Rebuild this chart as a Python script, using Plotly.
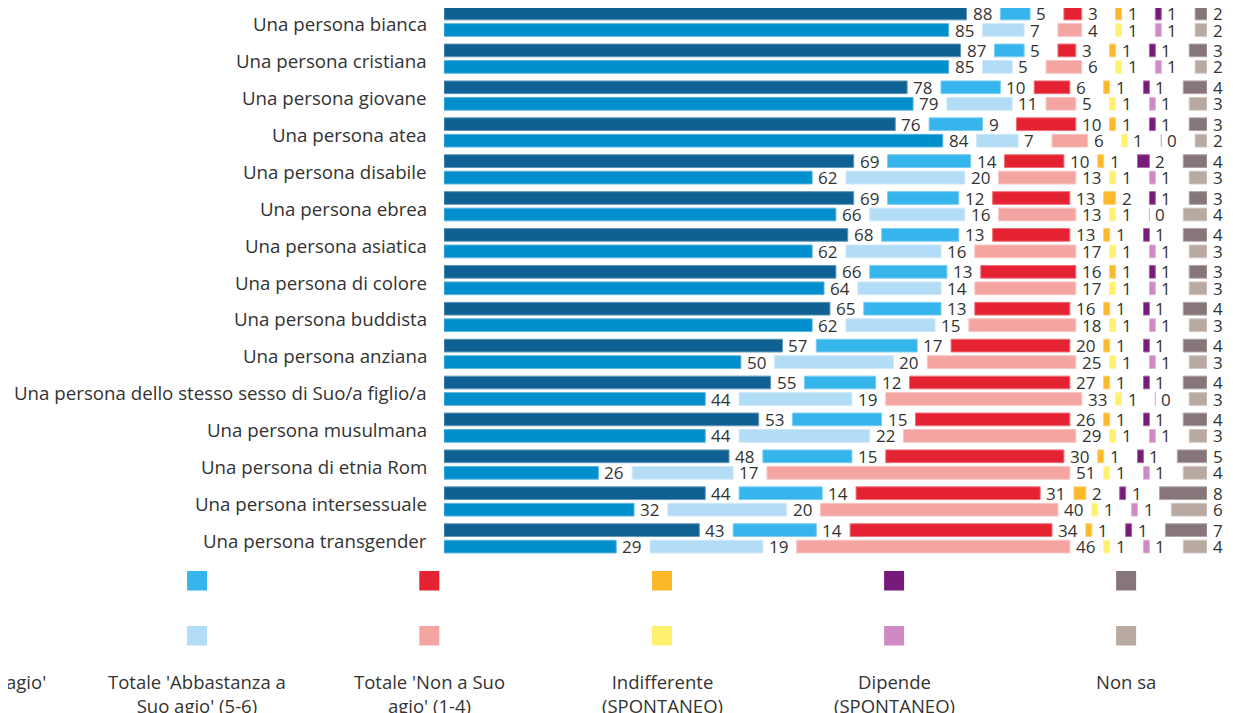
import plotly.graph_objects as go

# ---------------- data ----------------
categories = [
    "Una persona bianca",
    "Una persona cristiana",
    "Una persona giovane",
    "Una persona atea",
    "Una persona disabile",
    "Una persona ebrea",
    "Una persona asiatica",
    "Una persona di colore",
    "Una persona buddista",
    "Una persona anziana",
    "Una persona dello stesso sesso di Suo/a figlio/a",
    "Una persona musulmana",
    "Una persona di etnia Rom",
    "Una persona intersessuale",
    "Una persona transgender",
]

series_names = [
    "Totale 'A Suo agio' (7-10)",
    "Totale 'Abbastanza a Suo agio' (5-6)",
    "Totale 'Non a Suo agio' (1-4)",
    "Indifferente (SPONTANEO)",
    "Dipende (SPONTANEO)",
    "Non sa",
]
legend_labels = [
    "Totale 'A Suo agio'<br>(7-10)",
    "Totale 'Abbastanza a<br>Suo agio' (5-6)",
    "Totale 'Non a Suo<br>agio' (1-4)",
    "Indifferente<br>(SPONTANEO)",
    "Dipende<br>(SPONTANEO)",
    "Non sa",
]

# upper bar of each pair (dark)
agio_top = [88, 87, 78, 76, 69, 69, 68, 66, 65, 57, 55, 53, 48, 44, 43]
abbastanza_top = [5, 5, 10, 9, 14, 12, 13, 13, 13, 17, 12, 15, 15, 14, 14]
non_agio_top = [3, 3, 6, 10, 10, 13, 13, 16, 16, 20, 27, 26, 30, 31, 34]
indifferente_top = [1, 1, 1, 1, 1, 2, 1, 1, 1, 1, 1, 1, 1, 2, 1]
dipende_top = [1, 1, 1, 1, 2, 1, 1, 1, 1, 1, 1, 1, 1, 1, 1]
non_sa_top = [2, 3, 4, 3, 4, 3, 4, 3, 4, 4, 4, 4, 5, 8, 7]

# lower bar of each pair (light)
agio_bot = [85, 85, 79, 84, 62, 66, 62, 64, 62, 50, 44, 44, 26, 32, 29]
abbastanza_bot = [7, 5, 11, 7, 20, 16, 16, 14, 15, 20, 19, 22, 17, 20, 19]
non_agio_bot = [4, 6, 5, 6, 13, 13, 17, 17, 18, 25, 33, 29, 51, 40, 46]
indifferente_bot = [1, 1, 1, 1, 1, 1, 1, 1, 1, 1, 1, 1, 1, 1, 1]
dipende_bot = [1, 1, 1, 0, 1, 0, 1, 1, 1, 1, 0, 1, 1, 1, 1]
non_sa_bot = [2, 2, 3, 2, 3, 4, 3, 3, 3, 3, 3, 3, 4, 6, 4]

top_series = [agio_top, abbastanza_top, non_agio_top, indifferente_top, dipende_top, non_sa_top]
bot_series = [agio_bot, abbastanza_bot, non_agio_bot, indifferente_bot, dipende_bot, non_sa_bot]

colors_top = ["#0E6192", "#36B5EC", "#E52232", "#FBB828", "#761B79", "#877679"]
colors_bot = ["#008ECC", "#B3DCF7", "#F4A5A2", "#FFF06E", "#CE8AC2", "#B8AAA1"]

# ---------------- layout constants ----------------
PAGE_W, PAGE_H = 1233, 713
OFFX, OFFY = 8, 8                # page body margin
W, H = PAGE_W - OFFX, PAGE_H - OFFY
PL, PR = 443.5 - OFFX, 1206.7 - OFFX   # plot area in figure px
GAP = 5.7                        # gap between segments (axis units)
XMAX = 100 + 5 * GAP
PITCH = 36.9
FIRST = 21.75 - OFFY
R0 = -FIRST / PITCH
R1 = R0 + H / PITCH
OFF = 0.2235
BW = 0.345
TXT = "#333333"
FONT = "Open Sans"


def lighten(hexc, f=0.35):
    hexc = hexc.lstrip("#")
    r, g, b = (int(hexc[i:i + 2], 16) for i in (0, 2, 4))
    r, g, b = (int(c + (255 - c) * f) for c in (r, g, b))
    return f"rgb({r},{g},{b})"


fig = go.Figure()
annotations = []
n = len(categories)

for rows, cols, off in ((top_series, colors_top, -OFF), (bot_series, colors_bot, OFF)):
    ypos = [i + off for i in range(n)]
    cum = [0.0] * n
    for k, vals in enumerate(rows):
        bases = [cum[i] + k * GAP for i in range(n)]
        fig.add_trace(go.Bar(
            orientation="h", y=ypos, x=vals, base=bases, width=BW,
            marker=dict(color=cols[k], line=dict(color=lighten(cols[k]), width=1)),
            name=series_names[k], showlegend=False, hoverinfo="x+name",
        ))
        for i in range(n):
            annotations.append(dict(
                x=bases[i] + vals[i], y=ypos[i], xref="x", yref="y",
                text=str(vals[i]), showarrow=False, xanchor="left", yanchor="middle",
                xshift=4, font=dict(size=17, color=TXT, family=FONT),
            ))
            cum[i] += vals[i]

# category labels
for i, c in enumerate(categories):
    annotations.append(dict(
        x=0, y=i, xref="x", yref="y", text=c, showarrow=False,
        xanchor="right", yanchor="middle", xshift=-15, yshift=-2,
        font=dict(size=18.7, color=TXT, family=FONT),
    ))


def px(x):
    return (x - OFFX - PL) / (PR - PL)


def py(y):
    return 1 - (y - OFFY) / H


# custom legend (positions given in page pixels)
col_centers = [-33.0, 196.5, 428.8, 661.6, 893.7, 1125.8]
shapes = []
for k in range(6):
    cx = col_centers[k]
    for (y0, y1), col in (((571, 590.5), colors_top[k]), ((626, 645.5), colors_bot[k])):
        shapes.append(dict(
            type="rect", xref="paper", yref="paper",
            x0=px(cx - 10), x1=px(cx + 10), y0=py(y1), y1=py(y0),
            fillcolor=col, line=dict(width=0),
        ))
    annotations.append(dict(
        x=px(cx), y=py(667), xref="paper", yref="paper", text=legend_labels[k],
        showarrow=False, xanchor="center", yanchor="top", align="center",
        font=dict(size=18.5, color=TXT, family=FONT),
    ))

fig.update_layout(
    width=W, height=H,
    margin=dict(l=PL, r=W - PR, t=0, b=0, pad=0),
    barmode="overlay",
    showlegend=False,
    plot_bgcolor="white", paper_bgcolor="white",
    xaxis=dict(range=[0, XMAX], visible=False, fixedrange=True),
    yaxis=dict(range=[R1, R0], visible=False, fixedrange=True),
    annotations=annotations,
    shapes=shapes,
    font=dict(family=FONT, color=TXT),
)

fig.write_html("out.html")
